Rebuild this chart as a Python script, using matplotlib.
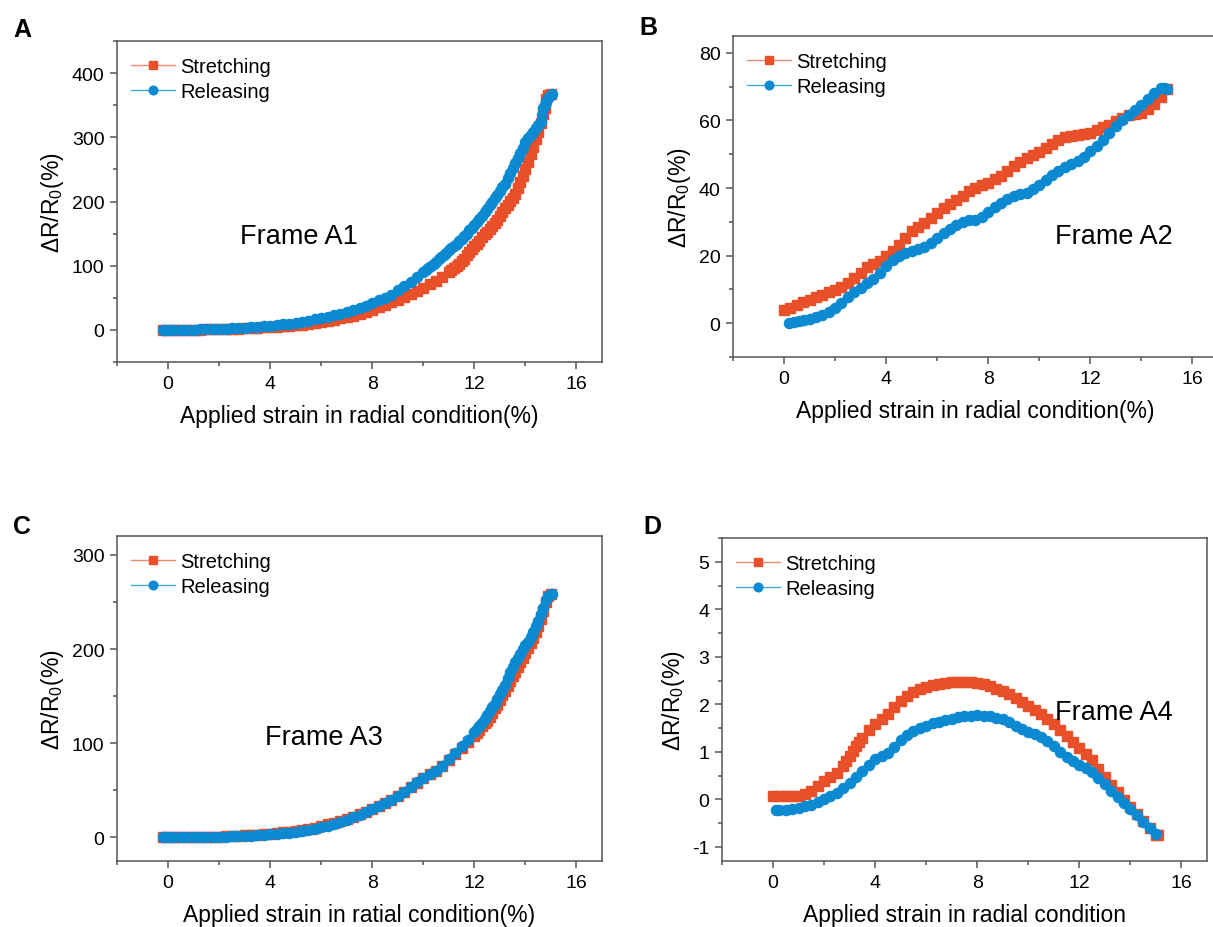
# Resistance change vs applied strain, four frames (A1-A4)

import matplotlib.pyplot as plt
from matplotlib.ticker import MultipleLocator

plt.rcParams['font.family'] = ['Liberation Sans', 'DejaVu Sans']
plt.rcParams['mathtext.fontset'] = 'custom'
plt.rcParams['mathtext.rm'] = 'Liberation Sans'
plt.rcParams['axes.unicode_minus'] = False

# ---- data: (strain %, dR/R0 %) ----
# Frame A1
a_stretch = [(-0.2, 0), (0, 0), (0.25, 0), (0.5, 0.2), (0.75, 0.3), (1, 0.5), (1.25, 0.6), (1.5, 0.8),
             (1.75, 1), (2, 1.2), (2.25, 1.5), (2.5, 1.8), (2.75, 2.1), (3, 2.5), (3.25, 2.9), (3.5, 3.3),
             (3.75, 3.8), (4, 4.3), (4.25, 4.9), (4.5, 5.6), (4.75, 6.4), (5, 7.3), (5.25, 8.3), (5.5, 9.5),
             (5.75, 11), (6, 12.5), (6.25, 14), (6.5, 16), (6.75, 18), (7, 20), (7.25, 22), (7.5, 25),
             (7.75, 28), (8, 31), (8.25, 35), (8.5, 39), (8.75, 43), (9, 47), (9.25, 51), (9.5, 56),
             (9.75, 61), (10, 66), (10.25, 71), (10.5, 77), (10.75, 83), (11, 90), (11.1, 93), (11.2, 96),
             (11.3, 100), (11.4, 103), (11.5, 107), (11.6, 111), (11.7, 116), (11.8, 121), (11.9, 126),
             (12, 130), (12.1, 134), (12.2, 139), (12.3, 144), (12.4, 149), (12.5, 153), (12.6, 157),
             (12.7, 162), (12.8, 167), (12.9, 172), (13, 178), (13.1, 184), (13.2, 190), (13.3, 195),
             (13.4, 201), (13.5, 206), (13.6, 212), (13.7, 221), (13.8, 230), (13.9, 240), (14, 250),
             (14.1, 262), (14.2, 274), (14.3, 285), (14.4, 297), (14.5, 308), (14.6, 322), (14.7, 336),
             (14.75, 345), (14.8, 360), (14.9, 366), (15, 367)]
a_release = [(-0.2, 0), (0, 0), (0.25, 0.1), (0.5, 0.2), (0.75, 0.4), (1, 0.6), (1.25, 0.8), (1.5, 1.1),
             (1.75, 1.4), (2, 1.7), (2.25, 2.1), (2.5, 2.5), (2.75, 3), (3, 3.5), (3.25, 4.1), (3.5, 4.8),
             (3.75, 5.6), (4, 6.5), (4.25, 7.5), (4.5, 8.7), (4.75, 10), (5, 11.5), (5.25, 13), (5.5, 14.5),
             (5.75, 16.5), (6, 18.5), (6.25, 20.5), (6.5, 23), (6.75, 25.5), (7, 28), (7.25, 31), (7.5, 34),
             (7.75, 38), (8, 42), (8.25, 46), (8.5, 50), (8.75, 55), (9, 62), (9.25, 68), (9.5, 75),
             (9.75, 83), (10, 91), (10.1, 94), (10.2, 97), (10.3, 100), (10.4, 103), (10.5, 106),
             (10.6, 110), (10.7, 113), (10.8, 117), (10.9, 120), (11, 124), (11.1, 127), (11.2, 130),
             (11.3, 134), (11.4, 138), (11.5, 142), (11.6, 146), (11.7, 150), (11.8, 155), (11.9, 159),
             (12, 164), (12.1, 168), (12.2, 173), (12.3, 178), (12.4, 183), (12.5, 188), (12.6, 194),
             (12.7, 199), (12.8, 205), (12.9, 210), (13, 216), (13.1, 222), (13.2, 228), (13.3, 236),
             (13.4, 244), (13.5, 252), (13.6, 260), (13.7, 268), (13.8, 276), (13.9, 284), (14, 292),
             (14.1, 299), (14.2, 304), (14.3, 309), (14.4, 314), (14.5, 319), (14.6, 324), (14.65, 335),
             (14.7, 345), (14.75, 351), (14.8, 356), (14.9, 362), (15, 366), (15.05, 367)]

# Frame A2
b_stretch = [(0, 3.9), (0.25, 4.5), (0.5, 5.3), (0.75, 6.2), (1, 7), (1.25, 7.7), (1.5, 8.5), (1.75, 9.2),
             (2, 9.8), (2.25, 10.8), (2.5, 12), (2.75, 13.3), (3, 15), (3.25, 16.5), (3.5, 17.6), (3.75, 18.5),
             (4, 19.8), (4.25, 21.5), (4.5, 23.3), (4.75, 25.3), (5, 27.2), (5.25, 28.6), (5.5, 29.8),
             (5.75, 31.2), (6, 32.7), (6.25, 34), (6.5, 35.2), (6.75, 36.4), (7, 37.7), (7.25, 39), (7.5, 40),
             (7.75, 40.8), (8, 41.6), (8.25, 42.6), (8.5, 43.7), (8.75, 45), (9, 46.5), (9.25, 47.8),
             (9.5, 48.9), (9.75, 49.7), (10, 50.6), (10.25, 51.8), (10.5, 53), (10.75, 54.2), (11, 55),
             (11.25, 55.5), (11.5, 55.8), (11.75, 56), (12, 56.4), (12.25, 57.2), (12.5, 58), (12.75, 58.8),
             (13, 59.8), (13.25, 60.8), (13.5, 61.5), (13.75, 61.8), (14, 62.2), (14.25, 63.5), (14.5, 65),
             (14.75, 67), (15, 69.2)]
b_release = [(0.2, 0.1), (0.4, 0.4), (0.6, 0.7), (0.8, 1.0), (1, 1.3), (1.25, 1.7), (1.5, 2.3), (1.75, 3.2),
             (2, 4.4), (2.25, 6), (2.5, 7.8), (2.75, 9.3), (3, 10.5), (3.25, 11.8), (3.5, 13.2), (3.75, 15),
             (4, 17), (4.25, 18.7), (4.5, 19.8), (4.75, 20.7), (5, 21.4), (5.25, 22), (5.5, 22.6),
             (5.75, 23.8), (6, 25.2), (6.25, 26.6), (6.5, 28), (6.75, 29.2), (7, 30), (7.25, 30.5),
             (7.5, 30.6), (7.75, 31.5), (8, 33), (8.25, 34.3), (8.5, 35.6), (8.75, 36.8), (9, 37.6),
             (9.25, 38.2), (9.5, 38.6), (9.75, 39.6), (10, 41), (10.25, 42.4), (10.5, 43.8), (10.75, 45.2),
             (11, 46.3), (11.25, 47.2), (11.5, 48), (11.75, 49.3), (12, 50.9), (12.25, 52.5), (12.5, 54.3),
             (12.75, 56.3), (13, 58.3), (13.25, 60), (13.5, 61.5), (13.75, 63), (14, 64.7), (14.25, 66.5),
             (14.5, 68.2), (14.75, 69.5), (14.9, 69.6), (15, 69.3)]

# Frame A3
c_stretch = [(-0.2, 0), (0, 0), (0.25, 0.1), (0.5, 0.2), (0.75, 0.3), (1, 0.4), (1.25, 0.5), (1.5, 0.6),
             (1.75, 0.8), (2, 1), (2.25, 1.2), (2.5, 1.5), (2.75, 1.8), (3, 2.1), (3.25, 2.5), (3.5, 2.9),
             (3.75, 3.4), (4, 4), (4.25, 4.7), (4.5, 5.5), (4.75, 6.3), (5, 7.2), (5.25, 8.1), (5.5, 9),
             (5.75, 10.3), (6, 12), (6.25, 13.8), (6.5, 15.6), (6.75, 17.6), (7, 19.7), (7.25, 22),
             (7.5, 24.6), (7.75, 27.5), (8, 30.6), (8.25, 33.7), (8.5, 36.8), (8.75, 40.3), (9, 44.2),
             (9.25, 48.5), (9.5, 53.3), (9.75, 58.3), (10, 63.3), (10.25, 67.2), (10.5, 70.8), (10.75, 75.5),
             (11, 82), (11.25, 88.5), (11.5, 95), (11.75, 101.5), (12, 108), (12.1, 111), (12.2, 114),
             (12.3, 118), (12.4, 121), (12.5, 124), (12.6, 128), (12.7, 132), (12.8, 137), (12.9, 141),
             (13, 146), (13.1, 151), (13.2, 156), (13.3, 161), (13.4, 166), (13.5, 171), (13.6, 176),
             (13.7, 181), (13.8, 186), (13.9, 191), (14, 196), (14.1, 201), (14.2, 206), (14.3, 212),
             (14.4, 218), (14.5, 225), (14.6, 232), (14.7, 240), (14.8, 250), (14.9, 256), (15, 258)]
c_release = [(-0.2, 0), (0, 0), (0.25, 0), (0.5, 0.1), (0.75, 0.1), (1, 0.2), (1.25, 0.3), (1.5, 0.4),
             (1.75, 0.5), (2, 0.7), (2.25, 0.9), (2.5, 1.1), (2.75, 1.3), (3, 1.6), (3.25, 1.9), (3.5, 2.3),
             (3.75, 2.7), (4, 3.2), (4.25, 3.8), (4.5, 4.5), (4.75, 5.2), (5, 6), (5.25, 6.8), (5.5, 7.7),
             (5.75, 9), (6, 10.6), (6.25, 12.4), (6.5, 14.4), (6.75, 16.4), (7, 18.7), (7.25, 21.2),
             (7.5, 24), (7.75, 27), (8, 30), (8.25, 33.3), (8.5, 36.5), (8.75, 40), (9, 44), (9.25, 48.5),
             (9.5, 53.5), (9.75, 58.5), (10, 63.6), (10.25, 67.5), (10.5, 71), (10.75, 76), (11, 83),
             (11.25, 90), (11.5, 97), (11.75, 104), (12, 112), (12.1, 115), (12.2, 118), (12.3, 122),
             (12.4, 126), (12.5, 130), (12.6, 134), (12.7, 138), (12.8, 142), (12.9, 147), (13, 152),
             (13.1, 157), (13.2, 162), (13.3, 169), (13.4, 176), (13.5, 181), (13.6, 186), (13.7, 191),
             (13.8, 195), (13.9, 200), (14, 204), (14.1, 208), (14.2, 213), (14.3, 218), (14.4, 224),
             (14.5, 230), (14.6, 237), (14.7, 244), (14.8, 252), (14.9, 256), (15, 258), (15.05, 258)]

# Frame A4
d_stretch = [(0, 0.06), (0.25, 0.06), (0.5, 0.06), (0.75, 0.06), (1, 0.07), (1.25, 0.12), (1.5, 0.18),
             (1.75, 0.28), (2, 0.38), (2.25, 0.47), (2.5, 0.55), (2.75, 0.7), (2.875, 0.8), (3, 0.92),
             (3.125, 1.02), (3.25, 1.12), (3.375, 1.21), (3.5, 1.3), (3.75, 1.45), (4, 1.58), (4.25, 1.68),
             (4.5, 1.8), (4.75, 1.95), (5, 2.07), (5.25, 2.17), (5.5, 2.25), (5.75, 2.32), (6, 2.37),
             (6.25, 2.4), (6.5, 2.43), (6.75, 2.45), (7, 2.46), (7.25, 2.47), (7.5, 2.47), (7.75, 2.46),
             (8, 2.44), (8.25, 2.42), (8.5, 2.38), (8.75, 2.33), (9, 2.27), (9.25, 2.21), (9.5, 2.14),
             (9.75, 2.05), (10, 1.96), (10.25, 1.88), (10.5, 1.79), (10.75, 1.69), (11, 1.58), (11.25, 1.46),
             (11.5, 1.33), (11.75, 1.21), (12, 1.09), (12.25, 0.96), (12.5, 0.82), (12.75, 0.64), (13, 0.46),
             (13.25, 0.3), (13.5, 0.15), (13.75, -0.01), (14, -0.17), (14.25, -0.31), (14.5, -0.45),
             (14.75, -0.6), (15, -0.76), (15.1, -0.76)]
d_release = [(0.1, -0.22), (0.25, -0.23), (0.5, -0.22), (0.75, -0.2), (1, -0.18), (1.25, -0.15), (1.5, -0.11),
             (1.75, -0.06), (2, 0.0), (2.25, 0.07), (2.5, 0.14), (2.75, 0.24), (3, 0.35), (3.25, 0.47),
             (3.5, 0.6), (3.75, 0.73), (4, 0.84), (4.25, 0.92), (4.5, 0.98), (4.75, 1.1), (5, 1.24),
             (5.25, 1.35), (5.5, 1.44), (5.75, 1.5), (6, 1.55), (6.25, 1.6), (6.5, 1.63), (6.75, 1.67),
             (7, 1.7), (7.25, 1.73), (7.5, 1.75), (7.75, 1.76), (8, 1.77), (8.25, 1.76), (8.5, 1.75),
             (8.75, 1.72), (9, 1.68), (9.25, 1.62), (9.5, 1.54), (9.75, 1.47), (10, 1.41), (10.25, 1.37),
             (10.5, 1.32), (10.75, 1.23), (11, 1.12), (11.25, 1.0), (11.5, 0.88), (11.75, 0.8), (12, 0.73),
             (12.25, 0.66), (12.5, 0.57), (12.75, 0.45), (13, 0.32), (13.25, 0.18), (13.5, 0.04),
             (13.75, -0.08), (14, -0.2), (14.25, -0.34), (14.5, -0.48), (14.75, -0.61), (15, -0.74)]

x_ticks = [0, 4, 8, 12, 16]
series_names = ['Stretching', 'Releasing']

RED = '#e9502a'
RED_LINE = '#f28a6c'
BLUE = '#0b8ad2'
BLUE_LINE = '#3eaee8'
SPINE = '#555555'

fig = plt.figure(figsize=(12.13, 9.28), dpi=100)


def draw_panel(rect, stretch, release, ylim, ymajor, yminor, xlabel, frame, frame_pos, letter, letter_pos):
    ax = fig.add_axes(rect)
    sx, sy = zip(*stretch)
    rx, ry = zip(*release)
    ax.plot(sx, sy, '-s', color=RED_LINE, mfc=RED, mec=RED, ms=6.8, lw=1, label=series_names[0])
    ax.plot(rx, ry, '-o', color=BLUE_LINE, mfc=BLUE, mec=BLUE, ms=7.3, lw=1, label=series_names[1])
    ax.set_xlim(-2, 17)
    ax.set_xticks(x_ticks)
    ax.xaxis.set_minor_locator(MultipleLocator(2))
    ax.yaxis.set_major_locator(MultipleLocator(ymajor))
    ax.yaxis.set_minor_locator(MultipleLocator(yminor))
    ax.set_ylim(*ylim)
    for s in ax.spines.values():
        s.set_color(SPINE)
        s.set_linewidth(1.1)
    ax.tick_params(which='both', direction='out', color=SPINE, width=1.1,
                   top=False, right=False, labelsize=14, pad=4)
    ax.tick_params(which='major', length=5)
    ax.tick_params(which='minor', length=3)
    ax.set_xlabel(xlabel, fontsize=16.5, labelpad=9)
    ax.set_ylabel(r'ΔR/R$_0$(%)', fontsize=16.5, labelpad=4)
    ax.text(frame_pos[0], frame_pos[1], frame, transform=ax.transAxes,
            fontsize=19.5, va='center', ha='left')
    ax.legend(loc='upper left', bbox_to_anchor=(0.012, 0.975), frameon=False,
              fontsize=14.5, handlelength=2.2, handletextpad=0.25,
              labelspacing=0.3, borderaxespad=0, numpoints=1, markerscale=0.85)
    fig.text(letter_pos[0], letter_pos[1], letter, fontsize=18, fontweight='bold',
             ha='left', va='center')
    return ax


draw_panel([0.0965, 0.6088, 0.3998, 0.3459], a_stretch, a_release,
           (-50, 450), 100, 50, 'Applied strain in radial condition(%)',
           'Frame A1', (0.254, 0.393), 'A', (0.011, 0.968))
draw_panel([0.6043, 0.6142, 0.3998, 0.3459], b_stretch, b_release,
           (-10, 85), 20, 10, 'Applied strain in radial condition(%)',
           'Frame A2', (0.664, 0.377), 'B', (0.527, 0.970))
draw_panel([0.0965, 0.0711, 0.3998, 0.3502], c_stretch, c_release,
           (-25, 320), 100, 50, 'Applied strain in ratial condition(%)',
           'Frame A3', (0.305, 0.382), 'C', (0.011, 0.432))
draw_panel([0.5952, 0.0711, 0.3998, 0.3480], d_stretch, d_release,
           (-1.3, 5.5), 1, 0.5, 'Applied strain in radial condition',
           'Frame A4', (0.687, 0.461), 'D', (0.530, 0.432))

plt.savefig('out.png', dpi=100)
